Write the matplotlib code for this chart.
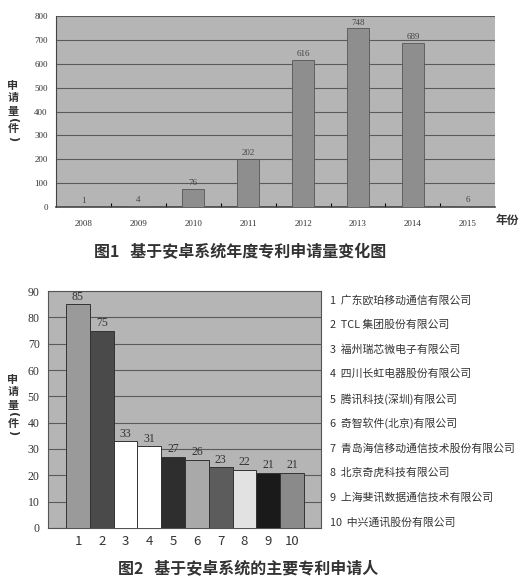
import numpy as np
import matplotlib
matplotlib.use("Agg")
import matplotlib.pyplot as plt

plt.rcParams['font.family'] = ['Noto Sans CJK SC', 'DejaVu Sans']

# ─── Data ─────────────────────────────────────────────────────────────────────
YEARS = ["2008", "2009", "2010", "2011", "2012", "2013", "2014", "2015"]
YEAR_COUNTS = [1, 4, 76, 202, 616, 748, 689, 6]

RANKS = ["1", "2", "3", "4", "5", "6", "7", "8", "9", "10"]
APPLICANT_COUNTS = [85, 75, 33, 31, 27, 26, 23, 22, 21, 21]
APPLICANTS = [
    "广东欧珀移动通信有限公司",
    "TCL 集团股份有限公司",
    "福州瑞芯微电子有限公司",
    "四川长虹电器股份有限公司",
    "腾讯科技(深圳)有限公司",
    "奇智软件(北京)有限公司",
    "青岛海信移动通信技术股份有限公司",
    "北京奇虎科技有限公司",
    "上海斐讯数据通信技术有限公司",
    "中兴通讯股份有限公司",
]
BAR_COLORS = ["#9a9a9a", "#4a4a4a", "#ffffff", "#ffffff", "#2e2e2e",
              "#a9a9a9", "#5c5c5c", "#e2e2e2", "#1a1a1a", "#8a8a8a"]

SERIF = ['Liberation Serif', 'DejaVu Serif']
BG = "#b5b5b5"
GRID = "#5a5a5a"
W, H = 526, 584

fig = plt.figure(figsize=(W / 100, H / 100), dpi=100)


def px(x, y):
    return x / W, 1 - y / H


def vertical_label(y_top):
    """申请量(件) written top-down, parentheses turned sideways."""
    parts = [("申", 0, 0), ("请", 12, 0), ("量", 25, 0), ("(", 35, -90),
             ("件", 43, 0), (")", 53, -90)]
    for ch, dy, rot in parts:
        fig.text(*px(13, y_top + dy), ch, ha='center', va='center',
                 fontsize=8, fontweight='bold', color="#333333",
                 rotation=rot, family=['DejaVu Sans'] if rot else None)


# ─── Figure 1 ─────────────────────────────────────────────────────────────────
ax1 = fig.add_axes([0.1065, 0.6455, 0.835, 0.327])
ax1.set_facecolor(BG)
x1 = np.arange(len(YEARS))
ax1.bar(x1, YEAR_COUNTS, width=0.4, color="#8e8e8e", edgecolor="#555555",
        linewidth=0.6, zorder=3)
for xi, v in zip(x1, YEAR_COUNTS):
    ax1.text(xi, v + 8, str(v), ha='center', va='bottom', fontsize=6.5,
             color="#444444", family=SERIF, zorder=4)
ax1.set_xlim(-0.5, 7.5)
ax1.set_ylim(0, 800)
ax1.set_yticks(range(0, 801, 100))
ax1.set_yticklabels([str(v) for v in range(0, 801, 100)], family=SERIF,
                    fontsize=6.5, color="#333333")
ax1.set_xticks(x1)
ax1.set_xticklabels(YEARS, family=SERIF, fontsize=6.5, color="#333333")
ax1.set_xticks(np.arange(0.5, 7.5, 1), minor=True)
ax1.tick_params(axis='x', which='major', length=0, pad=9)
ax1.tick_params(axis='x', which='minor', length=3, direction='in', width=0.8)
ax1.tick_params(axis='y', length=0, pad=6)
ax1.yaxis.grid(True, color=GRID, linewidth=0.8, zorder=1)
ax1.set_axisbelow(True)
for side in ['top', 'right']:
    ax1.spines[side].set_visible(False)
ax1.spines['left'].set_color("#444444")
ax1.spines['bottom'].set_color("#444444")
ax1.spines['bottom'].set_linewidth(1.2)

vertical_label(86)
fig.text(*px(507, 220), "年份", ha='center', va='center',
         fontsize=8.5, fontweight='bold', color="#333333")
fig.text(*px(240, 252), "图1   基于安卓系统年度专利申请量变化图",
         ha='center', va='center', fontsize=11.5, fontweight='bold',
         color="#333333")

# ─── Figure 2 ─────────────────────────────────────────────────────────────────
ax2 = fig.add_axes([0.0913, 0.0959, 0.519, 0.4058])
ax2.set_facecolor(BG)
x2 = np.arange(1, len(RANKS) + 1)
ax2.bar(x2, APPLICANT_COUNTS, width=1.0, color=BAR_COLORS,
        edgecolor="#333333", linewidth=0.7, zorder=3)
for xi, v in zip(x2, APPLICANT_COUNTS):
    ax2.text(xi, v + 0.6, str(v), ha='center', va='bottom', fontsize=8.5,
             color="#333333", family=SERIF, zorder=4)
ax2.set_xlim(-0.26, 11.22)
ax2.set_ylim(0, 90)
ax2.set_yticks(range(0, 91, 10))
ax2.set_yticklabels([str(v) for v in range(0, 91, 10)], family=SERIF,
                    fontsize=8.5, color="#333333")
ax2.set_xticks(x2)
ax2.set_xticklabels(RANKS, fontsize=9.5, color="#333333")
ax2.tick_params(axis='x', length=0, pad=5)
ax2.tick_params(axis='y', length=0, pad=6)
ax2.yaxis.grid(True, color=GRID, linewidth=0.8, zorder=1)
ax2.set_axisbelow(True)
for side in ax2.spines.values():
    side.set_color("#555555")
    side.set_linewidth(0.8)

vertical_label(380)

for i, (rank, name) in enumerate(zip(RANKS, APPLICANTS)):
    y = 300 + i * 24.7
    fig.text(*px(330, y), f"{rank}  {name}", ha='left',
             va='center', fontsize=7.8, color="#333333")

fig.text(*px(248, 568), "图2   基于安卓系统的主要专利申请人",
         ha='center', va='center', fontsize=11.5, fontweight='bold',
         color="#333333")

fig.savefig("out.png", dpi=100, facecolor="white")
